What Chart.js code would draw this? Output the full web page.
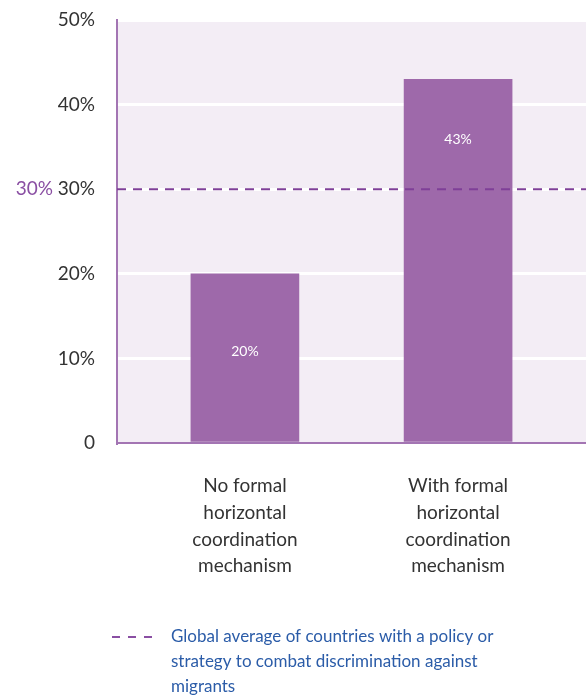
<!DOCTYPE html>
<html>
<head>
<meta charset="utf-8">
<script src="https://cdn.jsdelivr.net/npm/chart.js@4/dist/chart.umd.min.js"></script>
<style>
  html, body { margin: 0; padding: 0; background: #fff; }
  #wrap { position: relative; width: 586px; height: 699px; }
</style>
</head>
<body>
<div id="wrap"><canvas id="chart"></canvas></div>
<script>
// categories and values
const categories = [
  ['No formal', 'horizontal', 'coordination', 'mechanism'],
  ['With formal', 'horizontal', 'coordination', 'mechanism']
];
const shares = [20, 43];
const globalAverage = 30;
const yTicks = [0, 10, 20, 30, 40, 50];
const legendLines = [
  'Global average of countries with a policy or',
  'strategy to combat discrimination against',
  'migrants'
];

const purple = '#9e69aa';
const dashPurple = '#7f3f98';
const axisPurple = '#a375b3';

Chart.defaults.font.family = 'Lato, "Open Sans", sans-serif';

// where the value labels sit inside each bar (in y units)
const labelAnchors = [10.8, 35.9];

const extras = {
  id: 'extras',
  beforeDraw(chart) {
    const { ctx, chartArea: a } = chart;
    ctx.save();
    ctx.fillStyle = '#f3edf5';
    ctx.fillRect(a.left, a.top, a.right - a.left, a.bottom - a.top);
    ctx.restore();
  },
  afterDraw(chart) {
    const { ctx, scales } = chart;
    const x = scales.x, y = scales.y;
    ctx.save();

    // value labels in the bars
    ctx.fillStyle = '#ffffff';
    ctx.font = '14px Lato, sans-serif';
    ctx.textAlign = 'center';
    ctx.textBaseline = 'middle';
    shares.forEach((v, i) => {
      ctx.fillText(v + '%', x.getPixelForValue(i), y.getPixelForValue(labelAnchors[i]));
    });

    // average label next to the axis
    ctx.fillStyle = '#8a4fa3';
    ctx.font = '19px Lato, sans-serif';
    ctx.textAlign = 'right';
    ctx.fillText(globalAverage + '%', 53, y.getPixelForValue(globalAverage));

    // legend
    const ly = 637;
    ctx.strokeStyle = '#8a4fa3';
    ctx.lineWidth = 2;
    ctx.setLineDash([8, 8]);
    ctx.beginPath();
    ctx.moveTo(112, ly);
    ctx.lineTo(154, ly);
    ctx.stroke();
    ctx.setLineDash([]);
    ctx.fillStyle = '#2b5ca8';
    ctx.font = '17px Lato, sans-serif';
    ctx.textAlign = 'left';
    legendLines.forEach((t, i) => ctx.fillText(t, 171, ly + i * 25));
    ctx.restore();
  }
};

new Chart(document.getElementById('chart'), {
  data: {
    datasets: [
      {
        type: 'line',
        order: 0,
        data: [{ x: -0.6, y: globalAverage }, { x: 1.6, y: globalAverage }],
        borderColor: dashPurple,
        borderWidth: 2,
        borderDash: [9, 7],
        pointRadius: 0
      },
      {
        type: 'bar',
        order: 1,
        data: shares.map((v, i) => ({ x: i, y: v })),
        backgroundColor: purple,
        barThickness: 108
      }
    ]
  },
  options: {
    responsive: true,
    maintainAspectRatio: false,
    animation: false,
    layout: { padding: { top: 20, right: 0, bottom: 106, left: 0 } },
    plugins: { legend: { display: false }, tooltip: { enabled: false } },
    scales: {
      x: {
        type: 'linear',
        min: -0.6,
        max: 1.6,
        offset: false,
        afterBuildTicks: s => { s.ticks = categories.map((c, i) => ({ value: i })); },
        afterFit: s => { s.height = 150; s.paddingLeft = 0; s.paddingRight = 0; },
        grid: { display: false, drawTicks: false, offset: false },
        border: { color: axisPurple, width: 2 },
        ticks: {
          color: '#333',
          padding: 30,
          maxRotation: 0,
          autoSkip: false,
          font: { size: 19, lineHeight: 1.4 },
          callback: v => categories[v]
        }
      },
      y: {
        min: 0,
        max: 50,
        afterBuildTicks: s => { s.ticks = yTicks.map(v => ({ value: v })); },
        afterFit: s => { s.width = 117; s.paddingTop = 0; s.paddingBottom = 0; },
        grid: { color: '#ffffff', lineWidth: 3, drawTicks: false },
        border: { color: axisPurple, width: 2 },
        ticks: {
          color: '#333',
          padding: 22,
          font: { size: 19 },
          callback: v => v === 0 ? '0' : v + '%'
        }
      }
    }
  },
  plugins: [extras]
});
</script>
</body>
</html>
